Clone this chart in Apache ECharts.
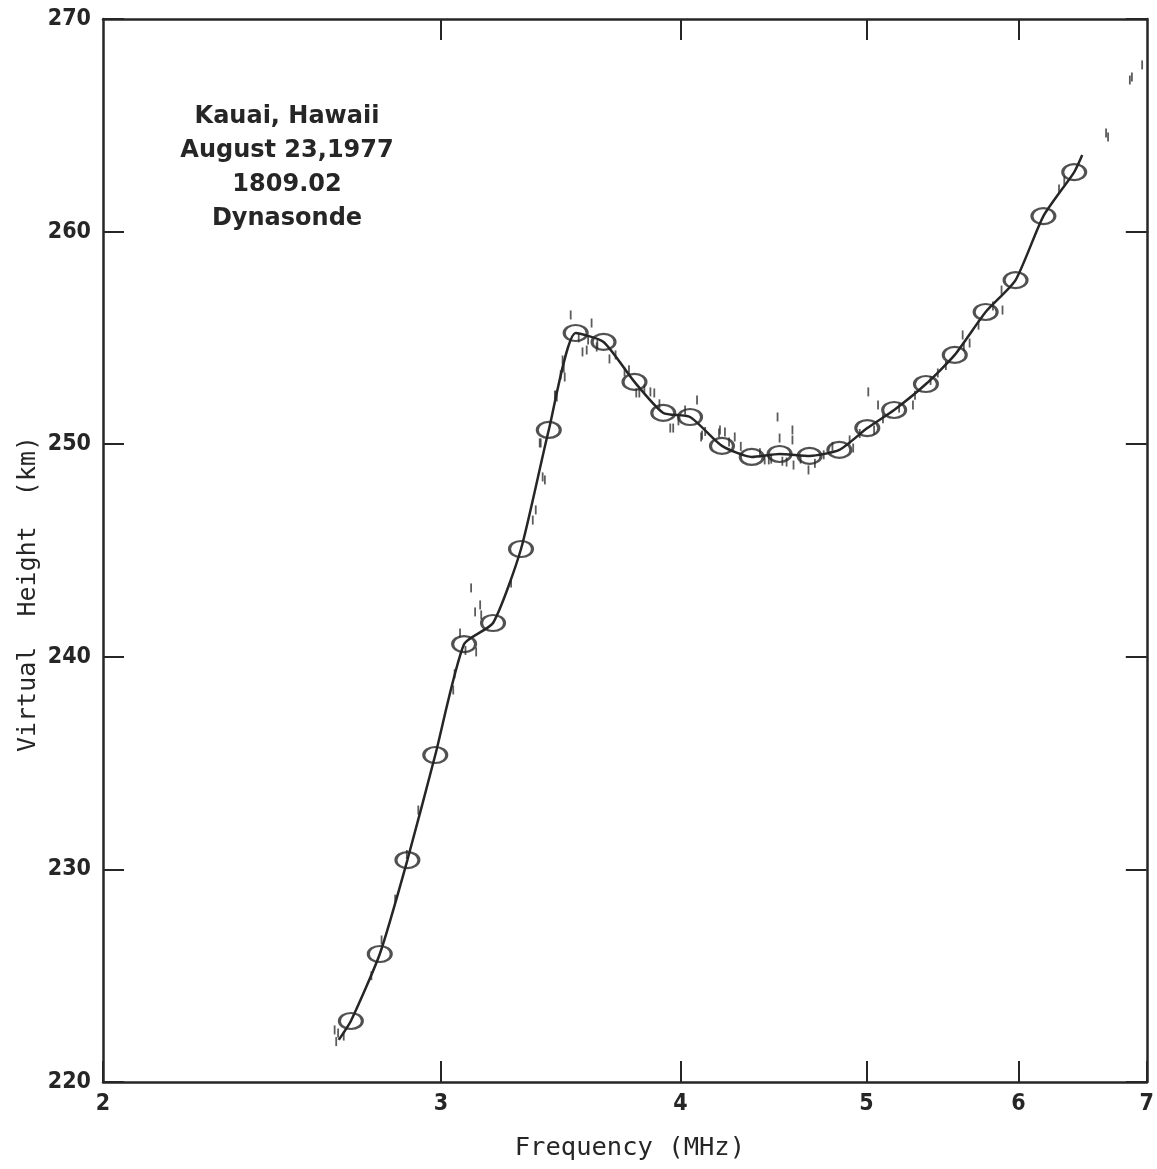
<!DOCTYPE html>
<html>
<head>
<meta charset="utf-8">
<title>Virtual Height vs Frequency</title>
<script src="https://cdn.jsdelivr.net/npm/echarts@6.0.0/dist/echarts.min.js"></script>
<style>
  html, body { margin: 0; padding: 0; background: #fff; overflow: hidden; }
  #chart { width: 1157px; height: 1169px; }
</style>
</head>
<body>
<div id="chart"></div>
<script>
// tick values
const freqTicks = [2, 3, 4, 5, 6, 7];
const freqTicksTop = [3, 4, 5, 6];
const heightTicks = [220, 230, 240, 250, 260, 270];

// ringed points (MHz, km)
const ringFreq = [2.693, 2.788, 2.882, 2.980, 3.085, 3.194, 3.303, 3.415, 3.527, 3.647, 3.785, 3.918, 4.046,
  4.204, 4.357, 4.505, 4.670, 4.840, 5.005, 5.169, 5.370, 5.559, 5.769, 5.980, 6.183, 6.416];
const ringHeight = [222.87, 226.02, 230.44, 235.38, 240.60, 241.59, 245.07, 250.67, 255.23, 254.81, 252.93, 251.47, 251.28,
  249.92, 249.40, 249.54, 249.45, 249.73, 250.76, 251.61, 252.83, 254.20, 256.22, 257.72, 260.73, 262.80];

// fitted curve
const curveFreq = [2.654, 2.693, 2.788, 2.882, 2.980, 3.085, 3.194, 3.303, 3.415, 3.527, 3.647, 3.785, 3.918, 4.046,
  4.204, 4.357, 4.505, 4.670, 4.840, 5.005, 5.169, 5.370, 5.559, 5.769, 5.980, 6.183, 6.416, 6.478];
const curveHeight = [221.98, 222.87, 226.02, 230.44, 235.38, 240.60, 241.59, 245.07, 250.67, 255.23, 254.81, 252.93, 251.47, 251.28,
  249.92, 249.40, 249.54, 249.45, 249.73, 250.76, 251.61, 252.83, 254.20, 256.22, 257.72, 260.73, 262.80, 263.60];

// raw echoes (short vertical marks)
const rawFreq = [2.641, 2.646, 2.652, 2.670, 2.760, 2.794, 2.840, 2.880, 2.920, 3.045, 3.050, 3.070, 3.090,
  3.111, 3.126, 3.130, 3.145, 3.149, 3.264, 3.350, 3.362, 3.390, 3.399, 3.378, 3.382, 3.440, 3.444,
  3.448, 3.464, 3.472, 3.477, 3.481, 3.506, 3.540, 3.556, 3.574, 3.580, 3.595, 3.617, 3.620, 3.673,
  3.700, 3.740, 3.760, 3.793, 3.807, 3.830, 3.858, 3.876, 3.900, 3.951, 3.965, 3.990, 4.022, 4.080,
  4.100, 4.105, 4.120, 4.189, 4.194, 4.219, 4.240, 4.269, 4.300, 4.400, 4.425, 4.447, 4.460, 4.494,
  4.505, 4.520, 4.543, 4.575, 4.575, 4.581, 4.620, 4.664, 4.700, 4.750, 4.800, 4.900, 4.921, 4.960,
  5.011, 5.046, 5.070, 5.100, 5.200, 5.287, 5.300, 5.400, 5.447, 5.500, 5.612, 5.620, 5.659, 5.720,
  5.820, 5.880, 5.887, 6.300, 6.340, 6.666, 6.682, 6.859, 6.876, 6.961];
const rawHeight = [222.45, 221.90, 222.30, 222.16, 225.00, 226.68, 228.60, 230.70, 232.79, 238.44, 239.20, 241.12, 240.30,
  243.24, 242.11, 240.23, 242.44, 241.97, 243.47, 246.43, 246.91, 248.46, 248.32, 250.06, 250.06, 252.31, 252.31,
  252.22, 253.26, 253.96, 253.58, 253.16, 256.08, 255.00, 254.34, 254.43, 254.90, 255.70, 254.57, 254.70, 254.01,
  254.20, 253.40, 253.50, 252.41, 252.41, 252.60, 252.46, 252.41, 251.90, 250.76, 250.76, 251.10, 251.61, 252.08,
  250.34, 250.43, 250.60, 250.53, 250.67, 250.57, 250.10, 250.34, 249.90, 249.60, 249.26, 249.26, 249.30, 251.28,
  250.29, 249.20, 249.16, 250.67, 250.20, 249.02, 249.30, 248.79, 249.10, 249.50, 249.90, 250.20, 249.82, 250.50,
  252.46, 250.67, 251.84, 251.20, 251.70, 251.84, 252.30, 253.00, 253.35, 253.70, 255.14, 254.60, 254.76, 255.60,
  256.50, 257.25, 256.31, 262.00, 262.40, 264.64, 264.45, 267.13, 267.27, 267.84];

const ink = '#262626';
const narrow = "'Liberation Sans Narrow', 'DejaVu Sans Condensed', sans-serif";
const mono = "'DejaVu Sans Mono', 'Liberation Mono', monospace";

(function () {
  let myChart = echarts.init(document.getElementById('chart'));

  let ringData = ringFreq.map((f, i) => [f, ringHeight[i]]);
  let curveData = curveFreq.map((f, i) => [f, curveHeight[i]]);
  let rawData = rawFreq.map((f, i) => [f, rawHeight[i]]);

  let axisLine = { show: true, lineStyle: { color: ink, width: 2.5 } };

  let option = {
    backgroundColor: '#fff',
    animation: false,
    grid: { left: 103, right: 2, top: 19, bottom: 87 },
    graphic: [
      {
        type: 'text',
        x: 287,
        y: 100,
        style: {
          text: 'Kauai, Hawaii\nAugust 23,1977\n1809.02\nDynasonde',
          textAlign: 'center',
          fill: ink,
          font: "bold 24px 'DejaVu Sans', sans-serif",
          lineHeight: 34
        }
      },
      {
        type: 'text',
        x: 28,
        y: 594,
        rotation: Math.PI / 2,
        style: {
          text: 'Virtual  Height  (km)',
          textAlign: 'center',
          textVerticalAlign: 'middle',
          fill: ink,
          font: '25px ' + mono
        }
      }
    ],
    xAxis: [
      {
        type: 'log',
        min: 2,
        max: 7,
        name: 'Frequency (MHz)',
        nameLocation: 'middle',
        nameGap: 53,
        nameTextStyle: { fontFamily: mono, fontSize: 25.5, color: ink, padding: [0, 0, 0, 10] },
        axisLine: axisLine,
        axisTick: { inside: true, length: 21, lineStyle: { color: ink, width: 2 }, customValues: freqTicks },
        axisLabel: { customValues: freqTicks, margin: 11, fontFamily: narrow, fontWeight: 'bold', fontSize: 23, color: ink },
        splitLine: { show: false },
        minorTick: { show: false }
      },
      {
        type: 'log',
        position: 'top',
        min: 2,
        max: 7,
        axisLine: axisLine,
        axisTick: { inside: true, length: 21, lineStyle: { color: ink, width: 2 }, customValues: freqTicksTop },
        axisLabel: { show: false },
        splitLine: { show: false }
      }
    ],
    yAxis: [
      {
        type: 'value',
        min: 220,
        max: 270,
        interval: 10,
        axisLine: axisLine,
        axisTick: { inside: true, length: 21, lineStyle: { color: ink, width: 2 } },
        axisLabel: { margin: 12, fontFamily: narrow, fontWeight: 'bold', fontSize: 23, color: ink,
          formatter: v => heightTicks.indexOf(v) >= 0 ? String(v) : '' },
        splitLine: { show: false }
      },
      {
        type: 'value',
        position: 'right',
        min: 220,
        max: 270,
        interval: 10,
        axisLine: axisLine,
        axisTick: { inside: true, length: 21, lineStyle: { color: ink, width: 2 } },
        axisLabel: { show: false },
        splitLine: { show: false }
      }
    ],
    series: [
      {
        name: 'raw',
        type: 'scatter',
        symbol: 'rect',
        symbolSize: [1.8, 9],
        itemStyle: { color: '#333' },
        data: rawData,
        z: 2
      },
      {
        name: 'curve',
        type: 'line',
        smooth: 0.2,
        showSymbol: false,
        lineStyle: { color: ink, width: 2.5 },
        data: curveData,
        z: 3
      },
      {
        name: 'rings',
        type: 'scatter',
        symbol: 'path://M-1,0A1,1,0,1,0,1,0A1,1,0,1,0,-1,0Z',
        symbolSize: [23, 16],
        itemStyle: { color: 'rgba(0,0,0,0)', borderColor: ink, borderWidth: 2.6 },
        data: ringData,
        z: 4
      }
    ]
  };

  myChart.setOption(option);
})();
</script>
</body>
</html>
